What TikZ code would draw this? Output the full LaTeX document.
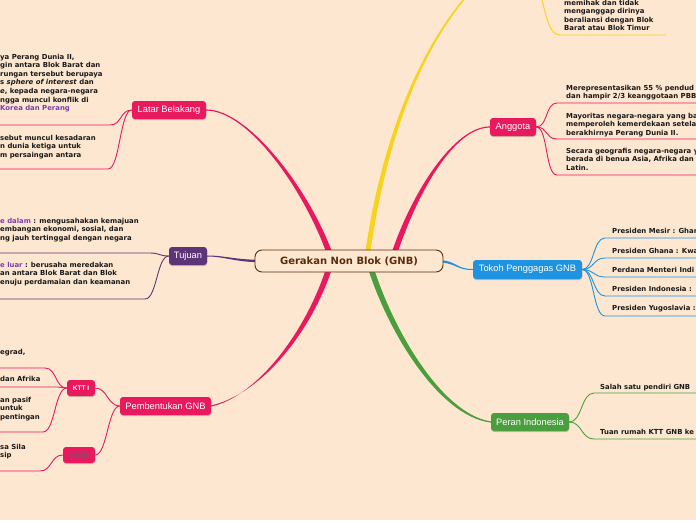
\documentclass[tikz,border=0pt]{standalone}
\usepackage{fontspec}
\setmainfont{DejaVu Sans}
\newfontfamily\lab{Liberation Sans}
\usetikzlibrary{calc,backgrounds,shadows}
\definecolor{bgc}{HTML}{FEE7D0}
\definecolor{pk}{HTML}{E8195E}
\definecolor{pu}{HTML}{5E3479}
\definecolor{bl}{HTML}{1E93E0}
\definecolor{gr}{HTML}{4A9E3E}
\definecolor{ye}{HTML}{F8D21C}
\definecolor{br}{HTML}{5A2E0C}
\definecolor{vi}{HTML}{7E3DAF}
\definecolor{mg}{HTML}{93466A}
\begin{document}
\begin{tikzpicture}[x=1pt,y=-1pt,
 topic/.style={rounded corners=3pt, inner sep=0pt, text=white, font=\lab\fontsize{9.3}{11}\selectfont, minimum height=18pt, drop shadow={shadow xshift=0.3pt,shadow yshift=-1pt,opacity=0.2,fill=black}},
 subtopic/.style={topic, font=\lab\bfseries\fontsize{6.6}{8}\selectfont, minimum height=16pt},
 txt/.style={inner sep=0pt, anchor=north west, align=left, font=\bfseries\fontsize{6.9}{8.6}\selectfont, text=black!90},
 ln/.style={line width=0.9pt},
]
\useasboundingbox (0,0) rectangle (696,520);
% nodes
\node[topic, fill=pk, minimum width=74pt] (lat) at (169,110) {Latar Belakang};
\node[topic, fill=pu, minimum width=38pt] (tuj) at (188,256) {Tujuan};
\node[topic, fill=pk, minimum width=91pt] (pem) at (165.5,406) {Pembentukan GNB};
\node[subtopic, fill=pk, minimum width=28pt] (ktt) at (81,388) {KTT I};
\node[subtopic, fill=pk, minimum width=32pt, text=mg] (mid) at (79,455) {Middle};
\node[topic, fill=pk, minimum width=46pt] (ang) at (513,127) {Anggota};
\node[topic, fill=bl, minimum width=109pt, minimum height=19pt] (tok) at (527.5,269.5) {Tokoh Penggagas GNB};
\node[topic, fill=gr, minimum width=78pt] (per) at (530,422) {Peran Indonesia};
\node[draw=br, line width=0.9pt, fill=bgc, rounded corners=7pt, minimum width=188pt, minimum height=22pt, inner sep=0pt, text=br, font=\bfseries\fontsize{10}{12}\selectfont] (gnb) at (349,261) {Gerakan Non Blok (GNB)};

% texts
\node[txt] (l1) at (0,53.6) {ya Perang Dunia II,\\gin antara Blok Barat dan\\rungan tersebut berupaya\\s \textit{sphere of interest} dan\\\textit{e}, kepada negara-negara\\ngga muncul konflik di\\\textcolor{vi}{Korea dan Perang}};
\node[txt] (l2) at (0,134.6) {sebut muncul kesadaran\\n dunia ketiga untuk\\m persaingan antara};
\node[txt] (t1) at (0,217.6) {\textcolor{vi}{e dalam} : mengusahakan kemajuan\\embangan ekonomi, sosial, dan\\ng jauh tertinggal dengan negara};
\node[txt] (t2) at (0,261.6) {\textcolor{vi}{e luar} : berusaha meredakan\\an antara Blok Barat dan Blok\\enuju perdamaian dan keamanan};
\node[txt] (k1) at (0,348.6) {egrad,};
\node[txt] (k2) at (0,375.6) {dan Afrika};
\node[txt] (k3) at (0,396.6) {an pasif\\ untuk\\pentingan};
\node[txt] (m1) at (0,443.6) {sa Sila\\sip};
\node[txt] (y1) at (564,-0.4) {memihak dan tidak\\menganggap dirinya\\beraliansi dengan Blok\\Barat atau Blok Timur};
\node[txt] (a1) at (566,84.6) {Merepresentasikan 55 \% pendud\\dan hampir 2/3 keanggotaan PBB};
\node[txt] (a2) at (566,112.6) {Mayoritas negara-negara yang ba\\memperoleh kemerdekaan setela\\berakhirnya Perang Dunia II.};
\node[txt] (a3) at (566,147.6) {Secara geografis negara-negara y\\berada di benua Asia, Afrika dan\\Latin.};
\node[txt] (p1) at (612,227.6) {Presiden Mesir : Ghan};
\node[txt] (p2) at (612,247.6) {Presiden Ghana : Kwa};
\node[txt] (p3) at (612,266.6) {Perdana Menteri Indi};
\node[txt] (p4) at (612,285.6) {Presiden Indonesia : };
\node[txt] (p5) at (612,304.6) {Presiden Yugoslavia : };
\node[txt] (r1) at (600,383.6) {Salah satu pendiri GNB};
\node[txt] (r2) at (600,428.6) {Tuan rumah KTT GNB ke};

% free ends
\coordinate (yp) at (540,-8);
\coordinate (ytop) at (470,-8);

\begin{pgfonlayer}{background}
\fill[bgc] (0,0) rectangle (696,520);
% main tapered branches
\fill[pk] ($(lat.east)+(0,-0.6)$) .. controls (250,109.4) and (313,195) .. ($(gnb.north)+(-15,8)$) -- ($(gnb.north)+(-21,8)$) .. controls (307,195) and (250,110.6) .. ($(lat.east)+(0,0.6)$) -- cycle;
\fill[ye] ($(gnb.north)+(15.5,8)$) .. controls (379.5,150) and (414,55) .. ($(ytop)+(-1,0)$) -- ($(ytop)+(1,0)$) .. controls (416,55) and (384.5,150) .. ($(gnb.north)+(20.5,8)$) -- cycle;
\fill[pk] ($(gnb.north)+(41,8)$) .. controls (412,190) and (455,126.4) .. ($(ang.west)+(0,-0.6)$) -- ($(ang.west)+(0,0.6)$) .. controls (455,127.6) and (418,190) .. ($(gnb.north)+(47,8)$) -- cycle;
\fill[pk] ($(gnb.south)+(-22,-7)$) .. controls (307,330) and (258,396) .. ($(pem.east)+(0,0.6)$) -- ($(pem.east)+(0,-0.6)$) .. controls (262,394) and (313,330) .. ($(gnb.south)+(-16,-7)$) -- cycle;
\fill[gr] ($(gnb.south)+(18,-7)$) .. controls (387,330) and (438,416) .. ($(per.west)+(0,0.6)$) -- ($(per.west)+(0,-0.6)$) .. controls (442,414) and (393,330) .. ($(gnb.south)+(24,-7)$) -- cycle;
\fill[pu] ($(gnb.west)+(6,-1.2)$) .. controls (235,259.8) and (225,255.5) .. ($(tuj.east)+(0,-0.5)$) -- ($(tuj.east)+(0,0.5)$) .. controls (225,256.5) and (235,262.2) .. ($(gnb.west)+(6,1.2)$) -- cycle;
\fill[bl] ($(gnb.east)+(-6,-1.2)$) .. controls (458,260.8) and (455,269) .. ($(tok.west)+(0,-0.5)$) -- ($(tok.west)+(0,0.5)$) .. controls (455,270) and (458,263.2) .. ($(gnb.east)+(-6,1.2)$) -- cycle;
% sub connectors
\draw[ln,pk] (lat.west) .. controls +(-12,0) and +(12,0) .. (110,125) coordinate (lu1) -- (-2,125);
\draw[ln,pk] (lat.west) .. controls +(-12,0) and +(12,0) .. (108,169) coordinate (lu2) -- (-2,169);
\draw[ln,pu] (tuj.west) .. controls +(-10,0) and +(10,0) .. (150,253) coordinate (tu1) -- (-2,253);
\draw[ln,pu] (tuj.west) .. controls +(-12,0) and +(12,0) .. (145,299) coordinate (tu2) -- (-2,299);
\draw[ln,pk] (ktt.west) .. controls +(-12,0) and +(12,0) .. (45,368) coordinate (ku1) -- (-2,368);
\draw[ln,pk] (ktt.west) .. controls +(-5,0) and +(5,0) .. (58,387) coordinate (ku2) -- (-2,387);
\draw[ln,pk] (ktt.west) .. controls +(-12,0) and +(12,0) .. (43,432) coordinate (ku3) -- (-2,432);
\draw[ln,pk] (mid.west) .. controls +(-12,0) and +(12,0) .. (40,471) coordinate (mu1) -- (-2,471);
\draw[ln,pk] (ktt.east) .. controls +(12,0) and +(-12,0) .. (pem.west);
\draw[ln,pk] (mid.east) .. controls +(12,0) and +(-12,0) .. (pem.west);
\draw[ln,ye] (yp) .. controls (547,20) and (550,35) .. (560,35) coordinate (yu) -- (666,35);
\foreach \yy/\nm in {103/au1,139/au2,175/au3}
  \draw[ln,pk] (ang.east) .. controls +(12,0) and +(-12,0) .. (557,\yy) coordinate (\nm) -- (700,\yy);
\foreach \yy/\nm in {238/pu1,258/pu2,277/pu3,296/pu4,316/pu5}
  \draw[ln,bl] (tok.east) .. controls +(12,0) and +(-12,0) .. (605,\yy) coordinate (\nm) -- (700,\yy);
\foreach \yy/\nm in {393/ru1,439/ru2}
  \draw[ln,gr] (per.east) .. controls +(13,0) and +(-13,0) .. (594,\yy) coordinate (\nm) -- (700,\yy);
\end{pgfonlayer}
\end{tikzpicture}
\end{document}
